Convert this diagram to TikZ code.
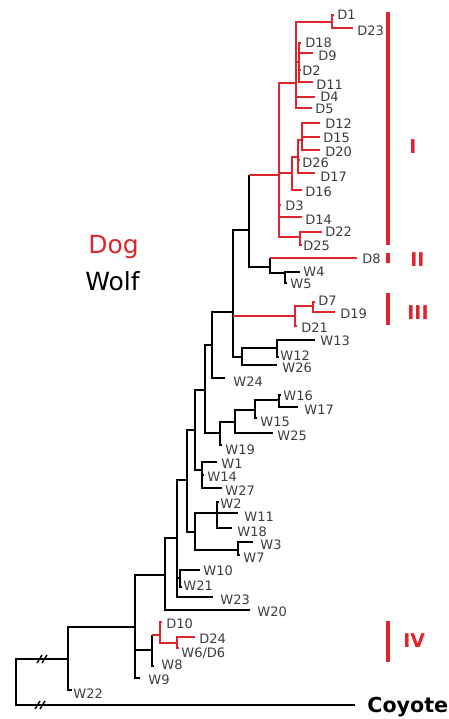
\documentclass[tikz,border=0pt]{standalone}
\usepackage{fontspec}
\setmainfont{DejaVu Sans}
\definecolor{dogred}{RGB}{222,36,44}
\definecolor{labgray}{RGB}{60,60,60}
\begin{document}
\begin{tikzpicture}[x=0.5pt,y=-0.5pt,
  br/.style={line width=0.7pt},
  dbr/.style={line width=0.7pt,draw=dogred},
  lab/.style={anchor=west,inner sep=0pt,text height=4.7pt,text depth=0pt,text=labgray,font=\fontsize{6.5}{7}\selectfont},
  clade/.style={line width=1.7pt,draw=dogred},
  cladelab/.style={anchor=west,inner sep=0pt,text height=6.9pt,text depth=0pt,text=dogred,font=\fontsize{9.5}{11}\selectfont\bfseries}]
\useasboundingbox (0,0) rectangle (449,719);

\coordinate (root) at (16,683);
\coordinate (n68) at (68,659);
\coordinate (n135) at (135,627);
\coordinate (n152) at (152,650);
\coordinate (n165) at (165,575);
\coordinate (n177) at (177,538);
\coordinate (n180) at (180,578);
\coordinate (n187) at (187,480);
\coordinate (n195) at (195,430);
\coordinate (n195b) at (195,532);
\coordinate (n202) at (202,470);
\coordinate (n217) at (217,513);
\coordinate (n238) at (238,550);
\coordinate (n205) at (205,390);
\coordinate (n220) at (220,433);
\coordinate (n235) at (235,422);
\coordinate (n255) at (255,410);
\coordinate (n279) at (279,400);
\coordinate (n212) at (212,345);
\coordinate (n233) at (233,312);
\coordinate (n249) at (249,230);
\coordinate (n270) at (270,267);
\coordinate (n285) at (285,273);
\coordinate (n242) at (242,357);
\coordinate (n277) at (277,348);
\coordinate (n295) at (295,316);
\coordinate (n313) at (313,306);
\coordinate (nR) at (279,175);
\coordinate (nQ) at (296,83);
\coordinate (nD1) at (332,22);
\coordinate (nD18) at (299,62);
\coordinate (nG) at (292,173);
\coordinate (nH) at (298,157);
\coordinate (nK) at (302,140);
\coordinate (nD22) at (300,237);
\coordinate (nD10) at (160,635);
\coordinate (nD24) at (177,643);

\coordinate (tCoy) at (355,705);
\coordinate (tW22) at (72,690);
\coordinate (tW9) at (140,678);
\coordinate (tW8) at (154,666);
\coordinate (tW20) at (250,610);
\coordinate (tW23) at (213,597);
\coordinate (tW10) at (200,570);
\coordinate (tW21) at (182,587);
\coordinate (tW1) at (217,462);
\coordinate (tW14) at (204,475);
\coordinate (tW27) at (222,488);
\coordinate (tW2) at (219,502);
\coordinate (tW11) at (238,513);
\coordinate (tW18) at (232,528);
\coordinate (tW3) at (253,542);
\coordinate (tW7) at (240,555);
\coordinate (tW19) at (222,445);
\coordinate (tW25) at (273,433);
\coordinate (tW15) at (257,418);
\coordinate (tW16) at (281,395);
\coordinate (tW17) at (298,407);
\coordinate (tW24) at (225,378);
\coordinate (tW4) at (300,272);
\coordinate (tW5) at (287,283);
\coordinate (tW26) at (277,365);
\coordinate (tW13) at (315,340);
\coordinate (tW12) at (279,357);
\coordinate (tD8) at (357,258);
\coordinate (tD21) at (297,326);
\coordinate (tD7) at (315,302);
\coordinate (tD19) at (335,312);
\coordinate (tD3) at (281,205);
\coordinate (tD14) at (302,217);
\coordinate (tD22) at (322,232);
\coordinate (tD25) at (302,245);
\coordinate (tD1) at (334,15);
\coordinate (tD23) at (353,28);
\coordinate (tD18) at (301,43);
\coordinate (tD9) at (313,53);
\coordinate (tD2) at (301,70);
\coordinate (tD11) at (313,82);
\coordinate (tD4) at (315,97);
\coordinate (tD5) at (312,108);
\coordinate (tD16) at (302,190);
\coordinate (tD26) at (300,160);
\coordinate (tD17) at (315,173);
\coordinate (tD12) at (320,123);
\coordinate (tD15) at (320,137);
\coordinate (tD20) at (320,150);
\coordinate (tD10) at (162,622);
\coordinate (tD24) at (195,637);
\coordinate (tW6) at (179,648);

\draw[br] (root) |- (n68) (root) |- (tCoy);
\draw[br] (n68) |- (n135) (n68) |- (tW22);
\draw[br] (n135) |- (n165) (n135) |- (n152) (n135) |- (tW9);
\draw[br] (n152) -- (n152 |- nD10) (n152) |- (tW8);
\draw[br] (n165) |- (n177) (n165) |- (tW20);
\draw[br] (n177) |- (n187) (n177) |- (n180) (n177) |- (tW23);
\draw[br] (n180) |- (tW10) (n180) |- (tW21);
\draw[br] (n187) |- (n195) (n187) |- (n195b);
\draw[br] (n195) |- (n205) (n195) |- (n202);
\draw[br] (n202) |- (tW1) (n202) |- (tW14) (n202) |- (tW27);
\draw[br] (n195b) |- (n217) (n195b) |- (n238);
\draw[br] (n217) |- (tW2) (n217) |- (tW11) (n217) |- (tW18);
\draw[br] (n238) |- (tW3) (n238) |- (tW7);
\draw[br] (n205) |- (n212) (n205) |- (n220);
\draw[br] (n220) |- (n235) (n220) |- (tW19);
\draw[br] (n235) |- (n255) (n235) |- (tW25);
\draw[br] (n255) |- (n279) (n255) |- (tW15);
\draw[br] (n279) |- (tW16) (n279) |- (tW17);
\draw[br] (n212) |- (n233) (n212) |- (tW24);
\draw[br] (n233) |- (n249) (n233) |- (n242);
\draw[br] (n249) -- (n249 |- nR) (n249) |- (n270);
\draw[br] (n270) -- (n270 |- tD8) (n270) |- (n285);
\draw[br] (n285) |- (tW4) (n285) |- (tW5);
\draw[br] (n242) |- (n277) (n242) |- (tW26);
\draw[br] (n277) |- (tW13) (n277) |- (tW12);

\draw[dbr] (n249 |- nR) -- (nR) (n233 |- n295) -- (n295) (n270 |- tD8) -- (tD8) (n152 |- nD10) -- (nD10);
\draw[dbr] (nR) |- (nQ) (nR) |- (nG) (nR) |- (tD3) (nR) |- (tD14) (nR) |- (nD22);
\draw[dbr] (nQ) |- (nD1) (nQ) |- (nD18) (nQ) |- (tD4) (nQ) |- (tD5);
\draw[dbr] (nD1) |- (tD1) (nD1) |- (tD23);
\draw[dbr] (nD18) |- (tD18) (nD18) |- (tD9) (nD18) |- (tD2) (nD18) |- (tD11);
\draw[dbr] (nG) |- (nH) (nG) |- (tD16);
\draw[dbr] (nH) |- (nK) (nH) |- (tD26) (nH) |- (tD17);
\draw[dbr] (nK) |- (tD12) (nK) |- (tD15) (nK) |- (tD20);
\draw[dbr] (nD22) |- (tD22) (nD22) |- (tD25);
\draw[dbr] (n295) |- (n313) (n295) |- (tD21);
\draw[dbr] (n313) |- (tD7) (n313) |- (tD19);
\draw[dbr] (nD10) |- (tD10) (nD10) |- (nD24);
\draw[dbr] (nD24) |- (tD24) (nD24) |- (tW6);

\draw[br] (37,663) -- (42,655) (42,663) -- (47,655);
\draw[br] (35,709) -- (40,701) (40,709) -- (45,701);

\node[lab] (D1) at (337,15) {D1};
\node[lab] (D23) at (357,31) {D23};
\node[lab] (D18) at (305,43) {D18};
\node[lab] (D9) at (318,56) {D9};
\node[lab] (D2) at (302,71) {D2};
\node[lab] (D11) at (316,85) {D11};
\node[lab] (D4) at (320,97) {D4};
\node[lab] (D5) at (315,109) {D5};
\node[lab] (D12) at (325,124) {D12};
\node[lab] (D15) at (323,138) {D15};
\node[lab] (D20) at (325,152) {D20};
\node[lab] (D26) at (302,163) {D26};
\node[lab] (D17) at (320,177) {D17};
\node[lab] (D16) at (305,192) {D16};
\node[lab] (D3) at (285,206) {D3};
\node[lab] (D14) at (305,220) {D14};
\node[lab] (D22) at (325,232) {D22};
\node[lab] (D25) at (303,246) {D25};
\node[lab] (D8) at (362,259) {D8};
\node[lab] (W4) at (303,272) {W4};
\node[lab] (W5) at (290,284) {W5};
\node[lab] (D7) at (318,301) {D7};
\node[lab] (D19) at (340,314) {D19};
\node[lab] (D21) at (301,328) {D21};
\node[lab] (W13) at (320,341) {W13};
\node[lab] (W12) at (280,356) {W12};
\node[lab] (W26) at (282,368) {W26};
\node[lab] (W24) at (233,382) {W24};
\node[lab] (W16) at (283,396) {W16};
\node[lab] (W17) at (304,410) {W17};
\node[lab] (W15) at (260,422) {W15};
\node[lab] (W25) at (277,436) {W25};
\node[lab] (W19) at (225,450) {W19};
\node[lab] (W1) at (221,464) {W1};
\node[lab] (W14) at (207,477) {W14};
\node[lab] (W27) at (225,491) {W27};
\node[lab] (W2) at (220,504) {W2};
\node[lab] (W11) at (244,517) {W11};
\node[lab] (W18) at (237,532) {W18};
\node[lab] (W3) at (260,545) {W3};
\node[lab] (W7) at (243,558) {W7};
\node[lab] (W10) at (203,571) {W10};
\node[lab] (W21) at (183,586) {W21};
\node[lab] (W23) at (220,600) {W23};
\node[lab] (W20) at (257,612) {W20};
\node[lab] (D10) at (166,624) {D10};
\node[lab] (D24) at (199,639) {D24};
\node[lab] (W6) at (181,653) {W6/D6};
\node[lab] (W8) at (161,665) {W8};
\node[lab] (W9) at (148,680) {W9};
\node[lab] (W22) at (73,694) {W22};
\node[anchor=base west,inner sep=0pt,font=\fontsize{10.3}{12}\selectfont\bfseries] (coyote) at (367,712) {Coyote};

\node[anchor=base west,inner sep=0pt,text=dogred,font=\fontsize{12.5}{14}\selectfont] (dog) at (88,253) {Dog};
\node[anchor=base west,inner sep=0pt,font=\fontsize{12.5}{14}\selectfont] (wolf) at (85,290) {Wolf};

\draw[clade] (388,12) -- (388,245);
\draw[clade] (388,253) -- (388,263);
\draw[clade] (388,293) -- (388,325);
\draw[clade] (388,621) -- (388,662);
\node[cladelab] (cI) at (409,147) {I};
\node[cladelab] (cII) at (410,260) {II};
\node[cladelab] (cIII) at (407,313) {III};
\node[cladelab] (cIV) at (403,641) {IV};
\end{tikzpicture}
\end{document}
